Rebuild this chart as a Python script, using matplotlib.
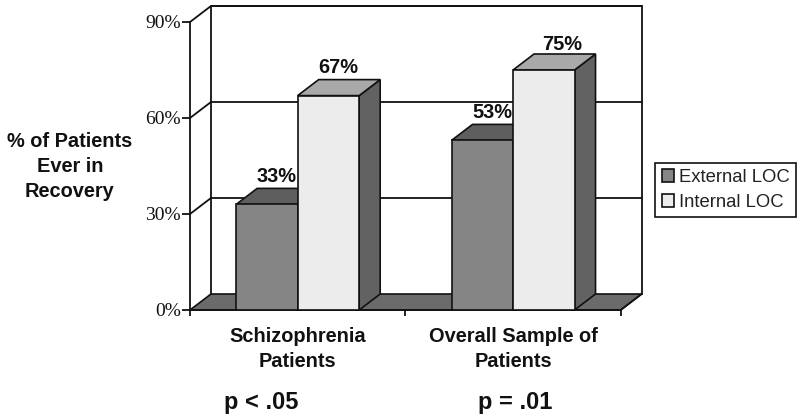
import matplotlib
matplotlib.use('Agg')
import matplotlib.pyplot as plt
from matplotlib.patches import Polygon, Patch

groups = ['Schizophrenia\nPatients', 'Overall Sample of\nPatients']
p_labels = ['p < .05', 'p = .01']
external = [33, 53]
internal = [67, 75]
yticks = [0, 30, 60, 90]
series_labels = ['External LOC', 'Internal LOC']

W, H = 800, 417
# front plane of the fake 3D box, in pixels
LEFT, RIGHT, BOTTOM, TOP = 190, 620.7, 310, 22
DX = 21 / ((RIGHT - LEFT) / 2)   # depth in category units
DY = 5.0                         # depth in percent units
BAR_W = 0.2856
SANS = 'Liberation Sans'
SERIF = 'Liberation Serif'
EDGE = '#111111'
TEXT_SIZE = 14.4


def draw_bar(ax, x0, val, front, top, side):
    x1 = x0 + BAR_W
    ax.add_patch(Polygon([(x1, 0), (x1 + DX, DY), (x1 + DX, val + DY), (x1, val)],
                         fc=side, ec=EDGE, lw=1.2, clip_on=False, zorder=3))
    ax.add_patch(Polygon([(x0, val), (x0 + DX, val + DY), (x1 + DX, val + DY), (x1, val)],
                         fc=top, ec=EDGE, lw=1.2, clip_on=False, zorder=3))
    ax.add_patch(Polygon([(x0, 0), (x0, val), (x1, val), (x1, 0)],
                         fc=front, ec=EDGE, lw=1.2, clip_on=False, zorder=4))


def bar_label(ax, x, val, dx, dy):
    # dx, dy in points, measured off the depth corner of the bar
    ax.annotate(f'{val}%', (x, val + DY), xytext=(dx, dy), textcoords='offset points',
                ha='center', va='center', fontfamily=SANS, fontweight='bold',
                fontsize=TEXT_SIZE, color='#111111', zorder=5, annotation_clip=False)


fig = plt.figure(figsize=(W / 100, H / 100), dpi=100)
ax = fig.add_axes([LEFT / W, 1 - BOTTOM / H, (RIGHT - LEFT) / W, (BOTTOM - TOP) / H])
ax.set_xlim(0, 2)
ax.set_ylim(0, 90)
ax.patch.set_visible(False)
for s in ['top', 'right']:
    ax.spines[s].set_visible(False)
for s in ['left', 'bottom']:
    ax.spines[s].set_linewidth(1.3)
    ax.spines[s].set_color(EDGE)

ax.set_yticks(yticks)
ax.set_yticklabels([f'{v}%' for v in yticks], fontfamily=SERIF, fontsize=14, color='#111111')
ax.set_xticks([0, 1, 2])
ax.set_xticklabels([])
ax.tick_params(axis='y', length=5.5, width=1.3, pad=1, color=EDGE)
ax.tick_params(axis='x', length=4.5, width=1.3, color=EDGE)

# floor and back walls
ax.add_patch(Polygon([(0, 0), (DX, DY), (2 + DX, DY), (2, 0)],
                     fc='#6b6b6b', ec=EDGE, lw=1.2, clip_on=False, zorder=1))
ax.plot([DX, DX, 2 + DX, 2 + DX], [DY, 90 + DY, 90 + DY, DY],
        color=EDGE, lw=1.3, clip_on=False, zorder=1)
ax.plot([2, 2 + DX], [0, DY], color=EDGE, lw=1.2, clip_on=False, zorder=1)
for v in yticks[1:]:
    ax.plot([0, DX, 2 + DX], [v, v + DY, v + DY], color=EDGE, lw=1.3,
            clip_on=False, zorder=1)

ext_label_shift = [(7, 8.5), (7, 8.5)]
int_label_shift = [(7, 8.5), (13, 6.5)]
p_shift = [-26, 1.5]

for i in range(len(groups)):
    c = i + 0.5
    draw_bar(ax, c - BAR_W, external[i], '#858585', '#5e5e5e', '#5e5e5e')
    draw_bar(ax, c, internal[i], '#ececec', '#a9a9a9', '#626262')
    bar_label(ax, c - BAR_W / 2, external[i], *ext_label_shift[i])
    bar_label(ax, c + BAR_W / 2, internal[i], *int_label_shift[i])
    ax.annotate(groups[i], (c, 0), xytext=(0, -12), textcoords='offset points', ha='center', va='top',
                fontfamily=SANS, fontweight='bold', fontsize=TEXT_SIZE, linespacing=1.42,
                color='#111111', annotation_clip=False)
    ax.annotate(p_labels[i], (c, 0), xytext=(p_shift[i], -58), textcoords='offset points',
                ha='center', va='top', fontfamily=SANS, fontweight='bold', fontsize=17,
                color='#111111', annotation_clip=False)

fig.text(70 / W, 1 - 166.5 / H, '% of Patients\nEver in\nRecovery', ha='center', va='center',
         fontfamily=SANS, fontweight='bold', fontsize=TEXT_SIZE, linespacing=1.42, color='#111111')

handles = [Patch(fc='#858585', ec=EDGE, lw=1.2), Patch(fc='#ececec', ec=EDGE, lw=1.2)]
leg = fig.legend(handles, series_labels, loc='center', bbox_to_anchor=(725.5 / W, 1 - 190 / H),
                 prop={'family': SANS, 'size': 13.3}, fancybox=False, framealpha=1, edgecolor=EDGE,
                 handlelength=0.66, handleheight=0.66, handletextpad=0.27, labelspacing=0.45,
                 borderpad=0.33, borderaxespad=0)
leg.get_frame().set_linewidth(1.2)
for t in leg.get_texts():
    t.set_color('#222222')

fig.savefig('out.png', dpi=100)
